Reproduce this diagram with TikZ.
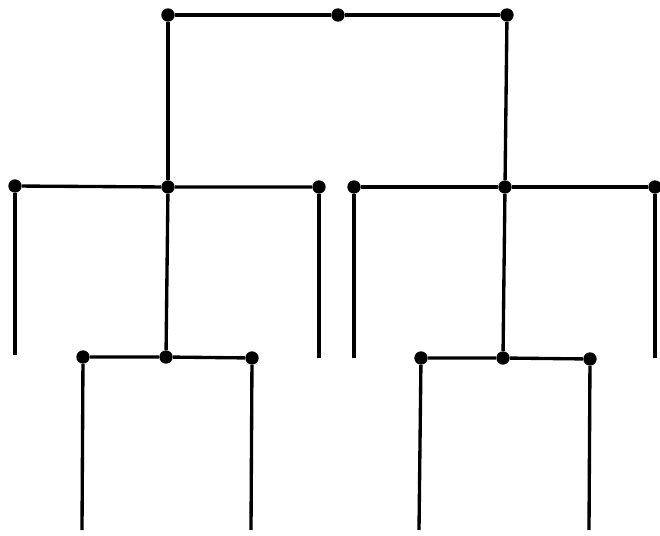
\documentclass[tikz,border=0pt]{standalone}
\usepackage{tikz}

\begin{document}
\begin{tikzpicture}[x=0.02cm, y=-0.02cm,
  dot/.style={circle, fill=black, inner sep=0pt, minimum size=7.6pt},
  wire/.style={line width=1.9pt}]
  \useasboundingbox (0,0) rectangle (660,535);
  % top level
  \node[dot] (t1) at (168,15) {};
  \node[dot] (t2) at (338,15) {};
  \node[dot] (t3) at (507,15) {};
  % middle level
  \node[dot] (m1) at (15,186) {};
  \node[dot] (m2) at (168,187) {};
  \node[dot] (m3) at (319,187) {};
  \node[dot] (m4) at (354,187) {};
  \node[dot] (m5) at (505,187) {};
  \node[dot] (m6) at (655,187) {};
  % bottom level
  \node[dot] (b1) at (83,357) {};
  \node[dot] (b2) at (166,357) {};
  \node[dot] (b3) at (252,358) {};
  \node[dot] (b4) at (421,358) {};
  \node[dot] (b5) at (503,358) {};
  \node[dot] (b6) at (590,359) {};
  % free ends
  \coordinate (e1) at (15,355);
  \coordinate (e3) at (319,358);
  \coordinate (e4) at (354,358);
  \coordinate (e6) at (655,358);
  \coordinate (f1) at (82,530);
  \coordinate (f3) at (251,530);
  \coordinate (f4) at (419,530);
  \coordinate (f6) at (589,530);
  % bars
  \draw[wire] (t1) -- (t2) -- (t3);
  \draw[wire] (m1) -- (m2) -- (m3);
  \draw[wire] (m4) -- (m5) -- (m6);
  \draw[wire] (b1) -- (b2) -- (b3);
  \draw[wire] (b4) -- (b5) -- (b6);
  % stems
  \draw[wire] (t1) -- (m2);
  \draw[wire] (t3) -- (m5);
  \draw[wire] (m2) -- (b2);
  \draw[wire] (m5) -- (b5);
  \draw[wire] (m1) -- (e1);
  \draw[wire] (m3) -- (e3);
  \draw[wire] (m4) -- (e4);
  \draw[wire] (m6) -- (e6);
  \draw[wire] (b1) -- (f1);
  \draw[wire] (b3) -- (f3);
  \draw[wire] (b4) -- (f4);
  \draw[wire] (b6) -- (f6);
\end{tikzpicture}
\end{document}
